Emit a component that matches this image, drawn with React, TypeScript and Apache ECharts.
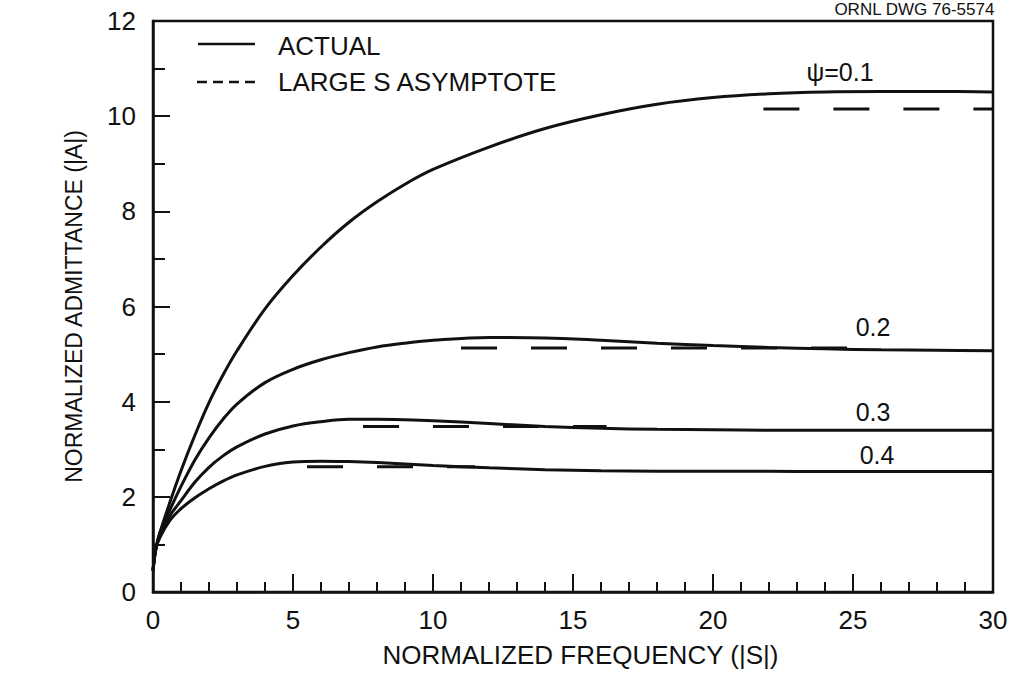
import React, { useEffect, useRef } from "react";
import * as echarts from "echarts";

// Normalized frequency |S| sample points
const freq = [0, 0.1, 0.25, 0.6, 1, 1.5, 2, 2.5, 3, 4, 5, 6, 7, 8, 9, 10, 12, 14, 16, 18, 20, 22, 24, 26, 28, 30];

// Actual normalized admittance |A| for each psi
const actual01 = [0.45, 0.9, 1.25, 1.88, 2.55, 3.3, 3.98, 4.56, 5.07, 5.95, 6.65, 7.25, 7.77, 8.2, 8.57, 8.88, 9.35, 9.74, 10.03, 10.25, 10.39, 10.47, 10.51, 10.52, 10.52, 10.51];
const actual02 = [0.45, 0.9, 1.25, 1.72, 2.22, 2.78, 3.24, 3.63, 3.95, 4.4, 4.68, 4.88, 5.03, 5.15, 5.23, 5.29, 5.35, 5.34, 5.29, 5.23, 5.18, 5.14, 5.11, 5.09, 5.08, 5.07];
const actual03 = [0.45, 0.9, 1.2, 1.6, 1.92, 2.31, 2.62, 2.86, 3.05, 3.32, 3.49, 3.58, 3.63, 3.63, 3.62, 3.6, 3.54, 3.48, 3.44, 3.42, 3.41, 3.4, 3.4, 3.4, 3.4, 3.4];
const actual04 = [0.45, 0.9, 1.15, 1.5, 1.75, 1.98, 2.17, 2.33, 2.46, 2.64, 2.73, 2.75, 2.74, 2.72, 2.69, 2.66, 2.61, 2.57, 2.55, 2.54, 2.54, 2.54, 2.53, 2.53, 2.53, 2.53];

// Large-S asymptotes: [startFreq, endFreq], value
const asymRange01 = [21.8, 30];
const asymValue01 = 10.15;
const asymRange02 = [11, 25];
const asymValue02 = 5.13;
const asymRange03 = [7.5, 16.2];
const asymValue03 = 3.48;
const asymRange04 = [5.5, 11.5];
const asymValue04 = 2.63;

const xTicks = [0, 5, 10, 15, 20, 25, 30];
const yTicks = [0, 2, 4, 6, 8, 10, 12];

const psiLabels = ["ψ=0.1", "0.2", "0.3", "0.4"];

const FONT = "Liberation Sans";
const INK = "#111";

function pairs(xs: number[], ys: number[]) {
  return xs.map((x, i) => [x, ys[i]]);
}

export default function App() {
  const ref = useRef<HTMLDivElement>(null);
  useEffect(() => {
    if (!ref.current) return;
    const chart = echarts.init(ref.current, null, { renderer: "svg" });
    const solid = (name: string, ys: number[]) => ({
      name,
      type: "line",
      data: pairs(freq, ys),
      smooth: 0.35,
      showSymbol: false,
      lineStyle: { color: INK, width: 3 },
      silent: true,
    });
    const dashed = (name: string, r: number[], v: number) => ({
      name,
      type: "line",
      data: [[r[0], v], [r[1], v]],
      showSymbol: false,
      lineStyle: { color: INK, width: 3, type: [36, 34] },
      silent: true,
    });
    chart.setOption({
      animation: false,
      backgroundColor: "#fff",
      grid: {
        left: 153,
        right: 21,
        top: 21,
        bottom: 80,
        show: true,
        borderColor: INK,
        borderWidth: 2.5,
      },
      xAxis: {
        type: "value",
        min: xTicks[0],
        max: xTicks[xTicks.length - 1],
        interval: 5,
        name: "NORMALIZED FREQUENCY (|S|)",
        nameLocation: "middle",
        nameGap: 50,
        nameTextStyle: { color: INK, fontFamily: FONT, fontSize: 26, padding: [0, 0, 0, 15] },
        axisLine: { show: true, lineStyle: { color: INK, width: 2.5 } },
        axisTick: { show: true, inside: true, length: 18, lineStyle: { color: INK, width: 2 } },
        minorTick: { show: true, splitNumber: 5, length: 10, lineStyle: { color: INK, width: 2 } },
        axisLabel: { color: INK, fontFamily: FONT, fontSize: 26, margin: 15 },
        splitLine: { show: false },
      },
      yAxis: {
        type: "value",
        min: yTicks[0],
        max: yTicks[yTicks.length - 1],
        interval: 2,
        name: "NORMALIZED ADMITTANCE (|A|)",
        nameLocation: "middle",
        nameGap: 68,
        nameTextStyle: { color: INK, fontFamily: FONT, fontSize: 23 },
        axisLine: { show: true, lineStyle: { color: INK, width: 2.5 } },
        axisTick: { show: true, inside: true, length: 17, lineStyle: { color: INK, width: 2 } },
        minorTick: { show: true, splitNumber: 2, length: 12, lineStyle: { color: INK, width: 2 } },
        axisLabel: { color: INK, fontFamily: FONT, fontSize: 26, margin: 17 },
        splitLine: { show: false },
      },
      series: [
        solid("Actual ψ=0.1", actual01),
        solid("Actual ψ=0.2", actual02),
        solid("Actual ψ=0.3", actual03),
        solid("Actual ψ=0.4", actual04),
        dashed("Asymptote ψ=0.1", asymRange01, asymValue01),
        dashed("Asymptote ψ=0.2", asymRange02, asymValue02),
        dashed("Asymptote ψ=0.3", asymRange03, asymValue03),
        dashed("Asymptote ψ=0.4", asymRange04, asymValue04),
      ],
      graphic: [
        {
          type: "text",
          right: 19,
          top: 1,
          style: { text: "ORNL DWG 76-5574", fill: INK, font: `17px "${FONT}"` },
        },
        {
          type: "line",
          shape: { x1: 198, y1: 44, x2: 255, y2: 44 },
          style: { stroke: INK, lineWidth: 2.5 },
        },
        {
          type: "text",
          x: 278,
          y: 46,
          style: { text: "ACTUAL", fill: INK, font: `26px "${FONT}"`, textVerticalAlign: "middle" },
        },
        {
          type: "line",
          shape: { x1: 197, y1: 82, x2: 255, y2: 82 },
          style: { stroke: INK, lineWidth: 2.5, lineDash: [10, 6] },
        },
        {
          type: "text",
          x: 278,
          y: 82,
          style: { text: "LARGE S ASYMPTOTE", fill: INK, font: `26px "${FONT}"`, textVerticalAlign: "middle" },
        },
        {
          type: "text",
          x: 840,
          y: 72,
          style: { text: psiLabels[0], fill: INK, font: `25px "${FONT}"`, textAlign: "center", textVerticalAlign: "middle" },
        },
        {
          type: "text",
          x: 873,
          y: 327,
          style: { text: psiLabels[1], fill: INK, font: `25px "${FONT}"`, textAlign: "center", textVerticalAlign: "middle" },
        },
        {
          type: "text",
          x: 873,
          y: 412,
          style: { text: psiLabels[2], fill: INK, font: `25px "${FONT}"`, textAlign: "center", textVerticalAlign: "middle" },
        },
        {
          type: "text",
          x: 877,
          y: 455,
          style: { text: psiLabels[3], fill: INK, font: `25px "${FONT}"`, textAlign: "center", textVerticalAlign: "middle" },
        },
      ],
    });
    return () => chart.dispose();
  }, []);
  return (
    <div
      ref={ref}
      style={{ position: "fixed", left: 0, top: 0, width: 1014, height: 673, background: "#fff" }}
    />
  );
}
